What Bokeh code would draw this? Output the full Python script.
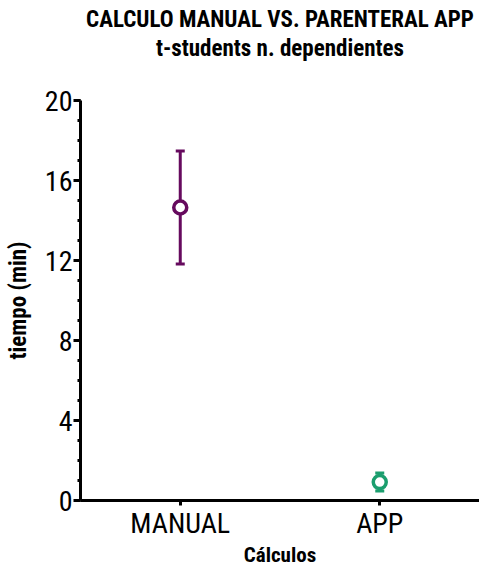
from bokeh.plotting import figure
from bokeh.models import FactorRange, Range1d, SingleIntervalTicker, Title
from bokeh.embed import file_html
from bokeh.resources import INLINE

categories = ["MANUAL", "APP"]
means = [14.65, 0.92]
sds = [2.82, 0.45]
colors = ["#660a5e", "#1b9e6e"]

title_lines = ["CALCULO MANUAL VS. PARENTERAL APP", "t-students n. dependientes"]
x_label = "Cálculos"
y_label = "tiempo (min)"

upper = [m + s for m, s in zip(means, sds)]
lower = [m - s for m, s in zip(means, sds)]

NARROW = "'Liberation Sans Narrow', 'Arial Narrow', 'Roboto Condensed', sans-serif"

p = figure(width=479, height=569, x_range=FactorRange(factors=categories, range_padding=0),
           y_range=Range1d(0, 20), output_backend="svg", toolbar_location=None,
           min_border_left=80, min_border_right=0, min_border_top=100, min_border_bottom=69)

p.segment(x0=categories, y0=lower, x1=categories, y1=upper, line_color=colors, line_width=3)
p.scatter(x=categories, y=upper, marker="dash", size=9, line_color=colors, line_width=3)
p.scatter(x=categories, y=lower, marker="dash", size=9, line_color=colors, line_width=3)
p.scatter(x=categories, y=means, marker="circle", size=13, fill_color="white",
          line_color=colors, line_width=3.5)

p.xgrid.visible = False
p.ygrid.visible = False
p.outline_line_color = None
p.background_fill_color = "white"
p.border_fill_color = "white"

p.yaxis.ticker = SingleIntervalTicker(interval=4, num_minor_ticks=4)
for ax in (p.xaxis, p.yaxis):
    ax.axis_line_width = 3
    ax.axis_line_color = "black"
    ax.major_tick_line_width = 3
    ax.major_tick_line_color = "black"
    ax.major_tick_in = 0
    ax.major_label_text_font = NARROW
    ax.major_label_text_font_size = "28px"
    ax.major_label_text_color = "black"
    ax.axis_label_text_font = NARROW
    ax.axis_label_text_font_style = "bold"
    ax.axis_label_text_font_size = "21px"
    ax.axis_label_text_color = "black"

p.yaxis.major_tick_out = 7
p.yaxis.minor_tick_out = 3
p.yaxis.minor_tick_in = 0
p.yaxis.minor_tick_line_width = 3
p.yaxis.minor_tick_line_color = "black"
p.yaxis.major_label_standoff = 1
p.yaxis.axis_label = y_label
p.yaxis.axis_label_text_font_size = "23px"
p.yaxis.axis_label_standoff = 10

p.xaxis.major_tick_out = 5
p.xaxis.minor_tick_out = 0
p.xaxis.major_label_standoff = 1
p.xaxis.axis_label = x_label
p.xaxis.axis_label_standoff = 0

spacer = Title(text=" ", text_font_size="1px", standoff=36)
t2 = Title(text=title_lines[1], align="center", text_font=NARROW, text_font_size="23px",
           text_font_style="bold", text_color="black", standoff=0)
t1 = Title(text=title_lines[0], align="center", text_font=NARROW, text_font_size="23px",
           text_font_style="bold", text_color="black", standoff=0)
p.add_layout(spacer, "above")
p.add_layout(t2, "above")
p.add_layout(t1, "above")

open("out.html", "w").write(file_html(p, INLINE))
